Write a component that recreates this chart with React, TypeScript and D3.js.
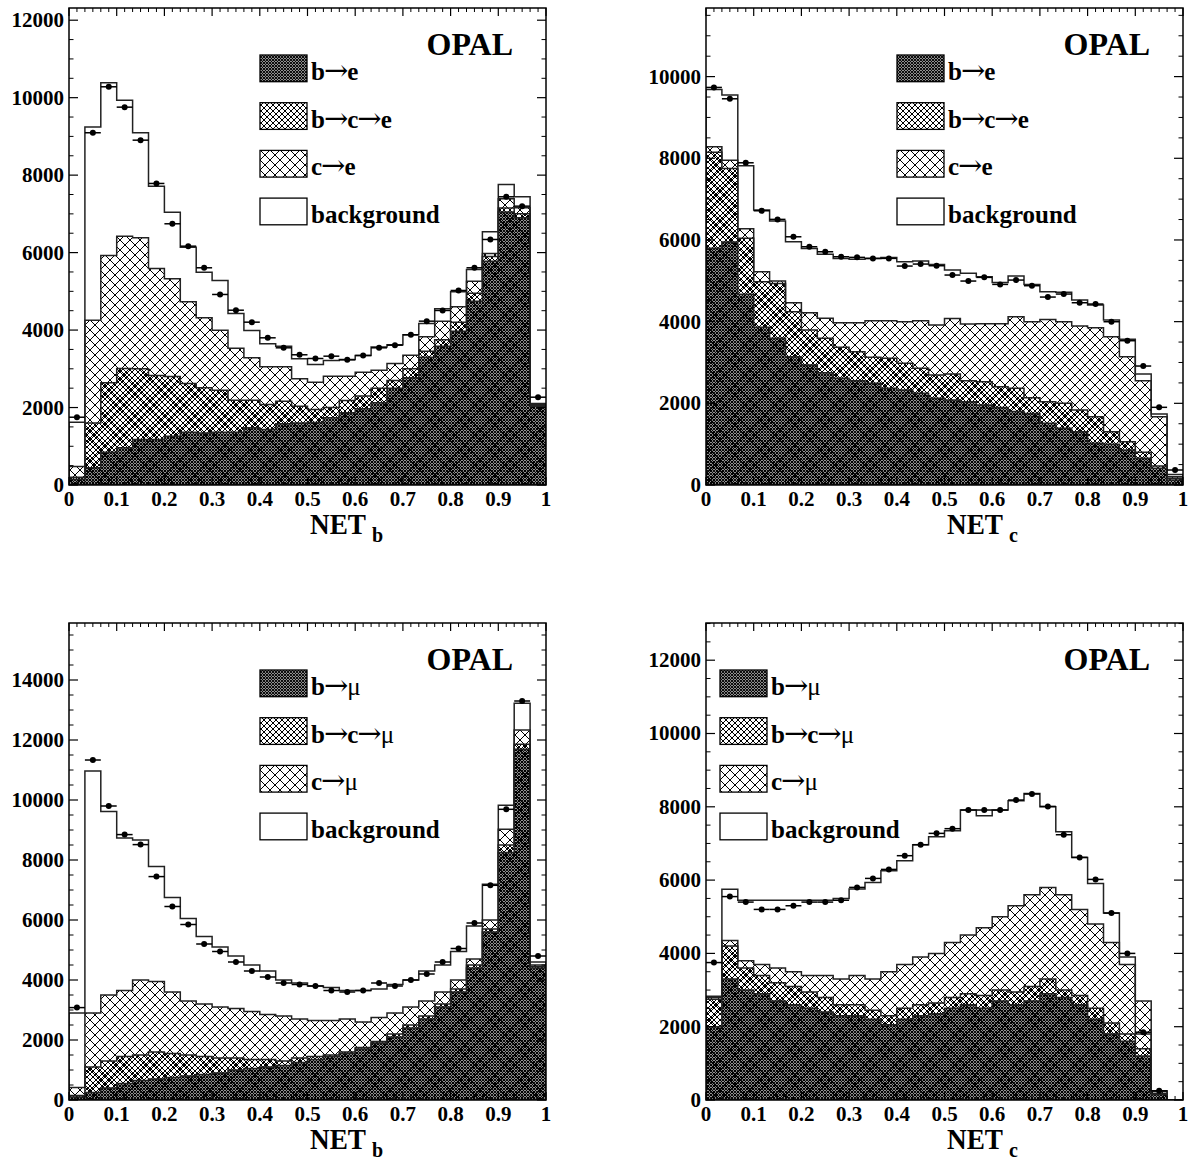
import React from "react";
import * as d3 from "d3";

const NBINS = 30;
const binEdges = d3.range(NBINS + 1).map((i) => i / NBINS);
const xTicks = ["0", "0.1", "0.2", "0.3", "0.4", "0.5", "0.6", "0.7", "0.8", "0.9", "1"];

// ---- Panel 1 : NET_b, electrons (cumulative tops of the stack) ----
const p1_b = [150, 444, 847, 960, 1175, 1175, 1260, 1364, 1340, 1364, 1364, 1476, 1433, 1580, 1600, 1614, 1735, 1864, 1967, 2122, 2500, 2768, 3300, 3584, 3971, 4746, 5779, 7050, 6900, 2030];
const p1_bc = [200, 1600, 2639, 3008, 3000, 2827, 2800, 2620, 2510, 2448, 2190, 2190, 2078, 2164, 2035, 1950, 2000, 2180, 2300, 2500, 2700, 3000, 3450, 3750, 4200, 4950, 5900, 7150, 7000, 2050];
const p1_c = [480, 4255, 5926, 6424, 6382, 5590, 5324, 4730, 4317, 3997, 3532, 3284, 3052, 3052, 2742, 2655, 2810, 2810, 2913, 2964, 3137, 3350, 3826, 4229, 4601, 5262, 5977, 7390, 7157, 2080];
const p1_tot = [1620, 9240, 10385, 9936, 9094, 7715, 7044, 6140, 5495, 5280, 4428, 3989, 3645, 3584, 3258, 3111, 3215, 3240, 3344, 3560, 3620, 3878, 4170, 4550, 4988, 5564, 6537, 7759, 7441, 2104];
const p1_data = [1750, 9094, 10281, 9755, 8903, 7785, 6744, 6166, 5608, 4919, 4513, 4204, 3800, 3542, 3362, 3266, 3326, 3232, 3344, 3542, 3610, 3878, 4230, 4506, 5022, 5608, 6339, 7441, 7199, 2267];

// ---- Panel 2 : NET_c, electrons ----
const p2_b = [5800, 5950, 4668, 3860, 3591, 3141, 2938, 2749, 2612, 2553, 2490, 2367, 2326, 2245, 2122, 2081, 2039, 1958, 1900, 1800, 1750, 1510, 1388, 1305, 1020, 1000, 857, 653, 408, 122];
const p2_bc = [8150, 7750, 6039, 4977, 4937, 4243, 3794, 3591, 3371, 3263, 3126, 3101, 2979, 2857, 2693, 2717, 2553, 2530, 2406, 2367, 2137, 2039, 2000, 1836, 1672, 1305, 1060, 800, 465, 164];
const p2_c = [8280, 7950, 6274, 5222, 4994, 4463, 4218, 4081, 3973, 3973, 4022, 4022, 3998, 4022, 3917, 4080, 3941, 3950, 3950, 4120, 3998, 4050, 3998, 3892, 3851, 3630, 3141, 2553, 1672, 200];
const p2_tot = [9687, 9547, 7817, 6732, 6463, 5956, 5794, 5650, 5549, 5530, 5549, 5570, 5467, 5484, 5402, 5263, 5182, 5100, 4961, 5116, 4912, 4733, 4717, 4529, 4406, 4039, 3567, 2717, 1738, 260];
const p2_data = [9735, 9457, 7890, 6715, 6504, 6078, 5834, 5711, 5589, 5574, 5549, 5549, 5361, 5410, 5369, 5141, 4994, 5084, 4912, 5018, 4880, 4602, 4676, 4463, 4431, 3998, 3533, 2913, 1902, 367];

// ---- Panel 3 : NET_b, muons ----
const p3_b = [100, 250, 400, 550, 650, 700, 750, 800, 850, 900, 1000, 1050, 1100, 1150, 1250, 1350, 1450, 1550, 1700, 1900, 2100, 2400, 2700, 3100, 3600, 4400, 5600, 8246, 11690, 4400];
const p3_bc = [150, 1100, 1300, 1450, 1500, 1600, 1550, 1500, 1450, 1400, 1400, 1350, 1350, 1300, 1400, 1450, 1500, 1600, 1750, 1950, 2200, 2500, 2800, 3200, 3700, 4500, 5700, 8500, 11857, 4450];
const p3_c = [420, 2900, 3500, 3650, 4000, 3950, 3600, 3300, 3200, 3100, 3050, 2950, 2850, 2800, 2700, 2650, 2650, 2700, 2600, 2750, 2900, 3100, 3300, 3600, 4000, 4700, 6000, 9023, 12333, 4500];
const p3_tot = [2900, 10967, 9613, 8733, 8667, 7780, 6750, 6050, 5450, 5100, 4800, 4500, 4300, 4000, 3900, 3800, 3750, 3650, 3650, 3700, 3850, 4000, 4300, 4500, 4950, 5800, 7190, 9823, 13223, 4600];
const p3_data = [3080, 11333, 9800, 8847, 8513, 7447, 6450, 5850, 5200, 4950, 4600, 4300, 4100, 3900, 3850, 3800, 3650, 3600, 3650, 3900, 3800, 4000, 4200, 4600, 5050, 5900, 7157, 9690, 13300, 4800];

// ---- Panel 4 : NET_c, muons ----
const p4_b = [2000, 3300, 3000, 2900, 2700, 2600, 2500, 2400, 2300, 2300, 2200, 2050, 2200, 2300, 2350, 2500, 2600, 2500, 2700, 2600, 2700, 2900, 2800, 2600, 2200, 1800, 1600, 1200, 150, 0];
const p4_bc = [2750, 4200, 3600, 3400, 3200, 3100, 2950, 2800, 2600, 2600, 2450, 2300, 2500, 2600, 2650, 2800, 2900, 2850, 3000, 2950, 3100, 3300, 3000, 2850, 2500, 2100, 1800, 1400, 180, 0];
const p4_c = [2800, 4350, 3800, 3700, 3600, 3500, 3400, 3400, 3300, 3400, 3300, 3500, 3700, 3900, 4000, 4300, 4500, 4700, 5000, 5300, 5600, 5800, 5600, 5200, 4800, 4300, 3700, 2700, 230, 0];
const p4_tot = [2830, 5750, 5450, 5450, 5450, 5450, 5450, 5450, 5500, 5757, 5937, 6256, 6530, 6966, 7184, 7348, 7912, 7757, 7912, 8166, 8366, 8003, 7320, 6620, 5910, 5100, 3900, 1800, 250, 0];
const p4_data = [3750, 5550, 5400, 5200, 5200, 5300, 5400, 5400, 5450, 5801, 6046, 6292, 6666, 6966, 7275, 7403, 7912, 7912, 7912, 8185, 8349, 8011, 7238, 6620, 6019, 5100, 4000, 1850, 250, 0];

const eLabels = [["b", "→", "e"], ["b", "→", "c", "→", "e"], ["c", "→", "e"], ["background"]];
const muLabels = [["b", "→", "μ"], ["b", "→", "c", "→", "μ"], ["c", "→", "μ"], ["background"]];

const W = 477;
const H = 477;
const FONT = "'Liberation Serif', 'Times New Roman', serif";
const SYM = "'DejaVu Serif', serif";

const panels = [
  { id: "p1", left: 69, top: 8, ymax: 12315, b: p1_b, bc: p1_bc, c: p1_c, tot: p1_tot, data: p1_data, labels: eLabels, legLeft: 191, sub: "b" },
  { id: "p2", left: 706, top: 8, ymax: 11680, b: p2_b, bc: p2_bc, c: p2_c, tot: p2_tot, data: p2_data, labels: eLabels, legLeft: 191, sub: "c" },
  { id: "p3", left: 69, top: 623, ymax: 15900, b: p3_b, bc: p3_bc, c: p3_c, tot: p3_tot, data: p3_data, labels: muLabels, legLeft: 191, sub: "b" },
  { id: "p4", left: 706, top: 623, ymax: 13015, b: p4_b, bc: p4_bc, c: p4_c, tot: p4_tot, data: p4_data, labels: muLabels, legLeft: 14, sub: "c" },
];

function hatch(id: string, s: number, sw: number) {
  const d = `M${-1},${-1}L${s + 1},${s + 1}M${-1},${s - 1}L1,${s + 1}M${s - 1},-1L${s + 1},1` +
    `M${-1},${s + 1}L${s + 1},${-1}M-1,1L1,-1M${s - 1},${s + 1}L${s + 1},${s - 1}`;
  return (
    <pattern id={id} key={id} patternUnits="userSpaceOnUse" width={s} height={s}>
      <path d={d} stroke="#000" strokeWidth={sw} fill="none" />
    </pattern>
  );
}

function Label({ parts, x, y }: { parts: string[]; x: number; y: number }) {
  return (
    <text x={x} y={y} fontFamily={FONT} fontSize={25} fill="#000">
      {parts.map((p, i) => {
        if (p === "→")
          return (
            <tspan key={i} fontFamily={SYM} fontWeight="normal" fontSize={29} dx={-1}>{p}</tspan>
          );
        if (p === "μ")
          return (
            <tspan key={i} fontWeight="normal" dx={-1}>{p}</tspan>
          );
        return (
          <tspan key={i} fontWeight="bold" dx={i > 0 ? -1 : 0}>{p}</tspan>
        );
      })}
    </text>
  );
}

function Panel({ p }: { p: any }) {
  const x = d3.scaleLinear().domain([0, 1]).range([p.left, p.left + W]);
  const y = d3.scaleLinear().domain([0, p.ymax]).range([p.top + H, p.top]);
  const step = (vals: number[]) => {
    let d = `M${x(0)},${y(0)}`;
    vals.forEach((v, i) => {
      d += `L${x(binEdges[i])},${y(v)}L${x(binEdges[i + 1])},${y(v)}`;
    });
    d += `L${x(1)},${y(0)}Z`;
    return d;
  };
  const yMajor = d3.range(0, p.ymax + 1, 2000);
  const yMinor = d3.range(0, p.ymax + 1, 500).filter((v) => v % 2000 !== 0);
  const xMinor = d3.range(0, 61).map((i) => i / 60).filter((_, i) => i % 6 !== 0);
  const lineStroke = "#222";
  const fills = ["url(#sparse)", "url(#medium)", "url(#dense)", "#fff"];
  const legendFills = ["url(#dense)", "url(#medium)", "url(#sparse)", "#fff"];
  const bx = p.left + p.legLeft;
  const x0 = p.left;
  const yb = p.top + H;
  return (
    <g>
      <clipPath id={`clip-${p.id}`}>
        <rect x={p.left} y={p.top} width={W} height={H} />
      </clipPath>
      <g clipPath={`url(#clip-${p.id})`}>
        <path d={step(p.tot)} fill="#fff" stroke={lineStroke} strokeWidth={1.5} />
        <path d={step(p.c)} fill={fills[0]} stroke={lineStroke} strokeWidth={1.5} />
        <path d={step(p.bc)} fill={fills[1]} stroke={lineStroke} strokeWidth={1.5} />
        <path d={step(p.b)} fill={fills[2]} stroke={lineStroke} strokeWidth={1.5} />
        {p.data.map((v: number, i: number) =>
          v > 0 ? (
            <g key={i}>
              <line x1={x(binEdges[i])} x2={x(binEdges[i + 1])} y1={y(v)} y2={y(v)} stroke="#000" strokeWidth={1.5} />
              <circle cx={x((binEdges[i] + binEdges[i + 1]) / 2)} cy={y(v)} r={3} fill="#000" />
            </g>
          ) : null
        )}
      </g>
      <rect x={p.left} y={p.top} width={W} height={H} fill="none" stroke="#000" strokeWidth={1.5} />
      {yMajor.map((v) => (
        <g key={"ym" + v}>
          <line x1={x0} x2={x0 + 9} y1={y(v)} y2={y(v)} stroke="#000" strokeWidth={1.2} />
          <line x1={x0 + W} x2={x0 + W - 9} y1={y(v)} y2={y(v)} stroke="#000" strokeWidth={1.2} />
          <text x={x0 - 5} y={y(v) + 7} textAnchor="end" fontFamily={FONT} fontWeight="bold" fontSize={21}>{v}</text>
        </g>
      ))}
      {yMinor.map((v) => (
        <g key={"yn" + v}>
          <line x1={x0} x2={x0 + 4.5} y1={y(v)} y2={y(v)} stroke="#000" strokeWidth={1} />
          <line x1={x0 + W} x2={x0 + W - 4.5} y1={y(v)} y2={y(v)} stroke="#000" strokeWidth={1} />
        </g>
      ))}
      {xTicks.map((t, i) => (
        <g key={"xm" + t}>
          <line x1={x(i / 10)} x2={x(i / 10)} y1={yb} y2={yb - 8} stroke="#000" strokeWidth={1.2} />
          <line x1={x(i / 10)} x2={x(i / 10)} y1={p.top} y2={p.top + 8} stroke="#000" strokeWidth={1.2} />
          <text x={x(i / 10)} y={yb + 21} textAnchor="middle" fontFamily={FONT} fontWeight="bold" fontSize={21}>{t}</text>
        </g>
      ))}
      {xMinor.map((v, i) => (
        <g key={"xn" + i}>
          <line x1={x(v)} x2={x(v)} y1={yb} y2={yb - 4} stroke="#000" strokeWidth={1} />
          <line x1={x(v)} x2={x(v)} y1={p.top} y2={p.top + 4} stroke="#000" strokeWidth={1} />
        </g>
      ))}
      <text x={x0 + 241} y={yb + 49} fontFamily={FONT} fontWeight="bold" fontSize={29} textLength={56} lengthAdjust="spacingAndGlyphs">NET</text>
      <text x={x0 + 303} y={yb + 57} fontFamily={FONT} fontWeight="bold" fontSize={20}>{p.sub}</text>
      <text x={x0 + 444} y={p.top + 47} textAnchor="end" fontFamily={FONT} fontWeight="bold" fontSize={32}>OPAL</text>
      {p.labels.map((parts: string[], k: number) => {
        const by = p.top + 47 + 47.7 * k;
        return (
          <g key={"lg" + k}>
            <rect x={bx} y={by} width={47} height={26.7} fill={legendFills[k]} stroke="#000" strokeWidth={1.3} />
            <Label parts={parts} x={bx + 51} y={by + 25} />
          </g>
        );
      })}
    </g>
  );
}

export default function App() {
  return (
    <div style={{ position: "absolute", left: 0, top: 0 }}>
      <svg width={1189} height={1161} viewBox="0 0 1189 1161" style={{ display: "block", background: "#fff" }}>
        <defs>
          {hatch("dense", 3, 1.05)}
          {hatch("medium", 6, 1)}
          {hatch("sparse", 10, 1)}
        </defs>
        <rect x={0} y={0} width={1189} height={1161} fill="#fff" />
        {panels.map((p) => (
          <Panel key={p.id} p={p} />
        ))}
      </svg>
    </div>
  );
}
